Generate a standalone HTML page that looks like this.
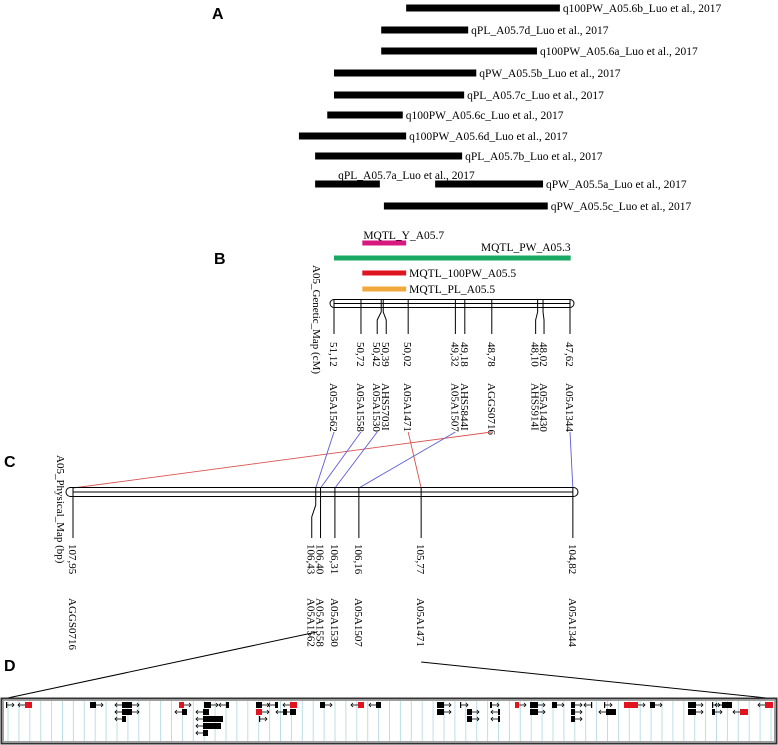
<!DOCTYPE html>
<html><head><meta charset="utf-8"><style>
html,body{margin:0;padding:0;background:#fff;}
svg{display:block;font-family:"Liberation Serif",serif;}
.pl{font-family:"Liberation Sans",sans-serif;font-weight:bold;font-size:16px;}
</style></head><body>
<svg id="fig" width="778" height="745" viewBox="0 0 778 745">
<text class="pl" x="212" y="19">A</text>
<text class="pl" x="214" y="264">B</text>
<text class="pl" x="4" y="467">C</text>
<text class="pl" x="4" y="671">D</text>
<g id="gA"></g><g id="gB"></g><g id="gC"></g><g id="gD"></g>
</svg>
<script>
const NS='http://www.w3.org/2000/svg';
// ---- data ----
const qtlNames=["q100PW_A05.6b_Luo et al., 2017","qPL_A05.7d_Luo et al., 2017","q100PW_A05.6a_Luo et al., 2017","qPW_A05.5b_Luo et al., 2017","qPL_A05.7c_Luo et al., 2017","q100PW_A05.6c_Luo et al., 2017","q100PW_A05.6d_Luo et al., 2017","qPL_A05.7b_Luo et al., 2017","qPL_A05.7a_Luo et al., 2017","qPW_A05.5a_Luo et al., 2017","qPW_A05.5c_Luo et al., 2017"];
const qtlStart=[50.05,50.42,50.42,51.12,51.12,51.22,51.64,51.40,51.40,49.62,50.38];
const qtlEnd=[47.77,49.13,48.11,49.01,49.19,50.10,50.05,49.22,50.44,48.02,47.95];
const qtlRow=[0,1,2,3,4,5,6,7,8,8,9];
const mqtlNames=["MQTL_Y_A05.7","MQTL_PW_A05.3","MQTL_100PW_A05.5","MQTL_PL_A05.5"];
const mqtlStart=[50.70,51.12,50.70,50.70];
const mqtlEnd=[50.05,47.61,50.05,50.05];
const mqtlColors=["#d6187f","#1aa865","#e0141e","#f2a93b"];
const genPos=[51.12,50.72,50.42,50.39,50.02,49.32,49.18,48.78,48.10,48.02,47.62];
const genMarkers=["A05A1562","A05A1558","A05A1530","AHS5703I","A05A1471","A05A1507","AHS5844I","AGGS0716","AHS5914I","A05A1430","A05A1344"];
const physPos=[107.95,106.43,106.40,106.31,106.16,105.77,104.82];
const physMarkers=["AGGS0716","A05A1562","A05A1558","A05A1530","A05A1507","A05A1471","A05A1344"];
// links: [genetic index, physical index, color]
const links=[[7,0,"#d9534f"],[0,1,"#5b5bd6"],[1,2,"#5b5bd6"],[2,3,"#5b5bd6"],[5,4,"#5b5bd6"],[4,5,"#d9534f"],[10,6,"#5b5bd6"]];
// genes: [x, row, width, red?, dir]
const genes=[[6,0,1,0,1],[25,0,7,1,-1],[90,0,6,0,1],[122,0,10,0,-1],[122,1,10,0,-1],[122,2,4,0,-1],[128,0,4,0,1],[128,1,4,0,1],[179,0,5,1,1],[182,1,5,0,-1],[204,0,7,0,1],[203,1,6,0,-1],[203,2,20,0,-1],[203,3,18,0,-1],[203,4,5,0,-1],[226,0,3,0,-1],[256,0,6,0,1],[256,1,6,1,1],[259,2,1,0,1],[275,0,3,0,-1],[283,1,4,0,-1],[290,0,7,1,-1],[290,1,6,0,-1],[320,0,5,0,1],[358,0,6,1,-1],[376,0,5,0,-1],[437,0,7,0,1],[437,1,7,0,1],[460,0,1,0,1],[467,1,5,0,1],[467,2,5,0,1],[490,0,2,0,1],[498,1,2,0,-1],[498,2,2,0,-1],[515,0,4,1,1],[530,0,8,0,1],[530,1,8,0,1],[552,0,5,0,1],[571,0,4,0,1],[571,1,4,0,1],[571,2,4,0,1],[591,0,1,0,-1],[604,0,1,0,1],[606,1,10,0,-1],[624,0,14,1,1],[650,0,5,0,1],[688,0,8,0,1],[688,1,8,0,1],[712,0,1,0,1],[722,0,10,0,-1],[712,1,3,0,1],[740,1,8,1,-1],[765,0,8,1,-1]];
// ---- scales ----
const gx=v=>334+(51.12-v)*67.43;
const px=v=>73+(107.95-v)*159.7;
function el(tag,attrs,parent,txt){const e=document.createElementNS(NS,tag);for(const k in attrs)e.setAttribute(k,attrs[k]);if(txt!==undefined)e.textContent=txt;parent.appendChild(e);return e;}
function vtext(parent,cx,y,s,size){const bx=cx-4;const t=el('text',{x:bx,y:y,'font-size':size||11,transform:`rotate(90 ${bx} ${y})`},parent,s);return t;}
// ---- A ----
const gA=document.getElementById('gA');
const rowY=[8,30,51,73,95,115,136,156,184,206];
qtlNames.forEach((n,i)=>{
 const x1=gx(qtlStart[i]),x2=gx(qtlEnd[i]),y=rowY[qtlRow[i]];
 const r=el('rect',{x:x1,y:y-3.5,width:x2-x1,height:7,fill:'#000'},gA);
 
 
 const t=(i===8)?el('text',{x:x1+23,y:179,'font-size':11.5},gA,n):el('text',{x:x2+3,y:y+4,'font-size':11.5},gA,n);
 
 
});
// ---- B ----
const gB=document.getElementById('gB');
const mY=[243,258,273,289];
mqtlNames.forEach((n,i)=>{
 const x1=gx(mqtlStart[i]),x2=gx(mqtlEnd[i]);
 const r=el('rect',{x:x1,y:mY[i]-2.5,width:x2-x1,height:5,fill:mqtlColors[i]},gB);
 
 
 let t;
 if(i===0)t=el('text',{x:x1+1,y:mY[i]-4,'font-size':11.5},gB,n);
 else if(i===1)t=el('text',{x:x2,y:mY[i]-7,'font-size':11.5,'text-anchor':'end'},gB,n);
 else t=el('text',{x:x2+3,y:mY[i]+4,'font-size':11.5},gB,n);
 
 
});
const gc=el('rect',{x:330,y:299.5,width:244,height:8,rx:4,fill:'none',stroke:'#000','stroke-width':1},gB);


el('line',{x1:334,y1:303.5,x2:570,y2:303.5,stroke:'#000'},gB);
const gNudge={2:-4,3:3,8:-2,9:1};
genPos.forEach((v,i)=>{
 const xt=gx(v),xb=xt+(gNudge[i]||0);
 el('polyline',{points:`${xt},300 ${xt},312 ${xb},320 ${xb},334`,fill:'none',stroke:'#000','stroke-width':1},gB);
 const t=vtext(gB,xb,342,v.toFixed(2).replace('.',','));
 
 
 const m=vtext(gB,xb,383,genMarkers[i]);
 
 
});
const gl=vtext(gB,317,265,'A05_Genetic_Map  (cM)');


// ---- C ----
const gC=document.getElementById('gC');
links.forEach(([g,p,c],i)=>{
 const l=el('line',{x1:gx(genPos[g])+(gNudge[g]||0),y1:432,x2:px(physPos[p]),y2:488,stroke:c,'stroke-width':0.9},gC);
 
 
});
const pc=el('rect',{x:66,y:487.5,width:512,height:9,rx:4.5,fill:'none',stroke:'#000'},gC);


el('line',{x1:73,y1:492,x2:573,y2:492,stroke:'#000'},gC);
const pNudge={1:-4};
physPos.forEach((v,i)=>{
 const xt=px(v),xb=xt+(pNudge[i]||0);
 el('polyline',{points:`${xt},488 ${xt},505 ${xb},517 ${xb},538`,fill:'none',stroke:'#000'},gC);
 const t=vtext(gC,xb,544,v.toFixed(2).replace('.',','));
 
 
 const m=vtext(gC,xb,598,physMarkers[i]);
 
 
});
const pl=vtext(gC,61,455,'A05_Physical_Map  (bp)');


// ---- D ----
const gD=document.getElementById('gD');
el('line',{x1:px(106.43)+1,y1:632,x2:3,y2:699,stroke:'#000'},gD);
el('line',{x1:px(105.77),y1:662,x2:776,y2:699,stroke:'#000'},gD);
for(let x=8;x<775;x+=10.9){el('line',{x1:x,y1:701,x2:x,y2:741,stroke:'#bcdfe6','stroke-width':1},gD);}
const box=el('rect',{x:1.5,y:698.5,width:775,height:45,fill:'none',stroke:'#333','stroke-width':2},gD);


el('rect',{x:3.5,y:700.5,width:771,height:41,fill:'none',stroke:'#777','stroke-width':0.7},gD);
const gRow=[705,712,719,726,733];
genes.forEach(([x,r,w,red,d],i)=>{
 const y=gRow[r];
 const g=el('g',{},gD);
 
 
 el('rect',{x:x,y:y-3,width:Math.max(w,1.2),height:6,fill:red?'#e0141e':'#000'},g);
 const s=d>0?x+w:x, e=s+7*d;
 el('line',{x1:s,y1:y,x2:e,y2:y,stroke:'#000','stroke-width':0.8},g);
 el('polyline',{points:`${e-2*d},${y-2} ${e},${y} ${e-2*d},${y+2}`,fill:'none',stroke:'#000','stroke-width':0.8},g);
});
</script>
</body></html>
